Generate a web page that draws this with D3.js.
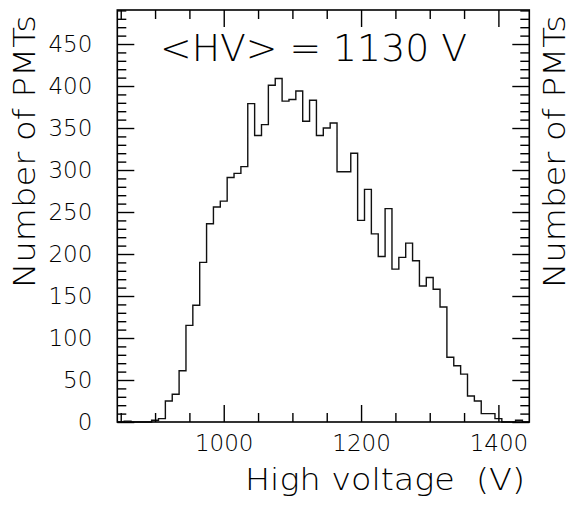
<!DOCTYPE html>
<html>
<head>
<meta charset="utf-8">
<script src="https://cdn.jsdelivr.net/npm/d3@7"></script>
<style>
  html, body { margin: 0; padding: 0; background: #fff; }
  svg { display: block; }
</style>
</head>
<body>
<svg id="chart" width="568" height="505"></svg>
<script>
// Bin centres (10 V wide bins) of the high-voltage distribution
const binCenters = [
  850, 860, 870, 880, 890, 900, 910, 920, 930, 940,
  950, 960, 970, 980, 990, 1000, 1010, 1020, 1030, 1040,
  1050, 1060, 1070, 1080, 1090, 1100, 1110, 1120, 1130, 1140,
  1150, 1160, 1170, 1180, 1190, 1200, 1210, 1220, 1230, 1240,
  1250, 1260, 1270, 1280, 1290, 1300, 1310, 1320, 1330, 1340,
  1350, 1360, 1370, 1380, 1390, 1400, 1410, 1420, 1430, 1440
];
// Number of PMTs in each bin
const pmtCounts = [
  0, 1, 0, 0, 0, 2, 4, 25, 33, 61,
  115, 139, 190, 236, 256, 263, 291, 296, 304, 379,
  341, 354, 401, 409, 382, 384, 394, 358, 383, 341,
  350, 356, 298, 298, 320, 240, 277, 224, 197, 254,
  182, 196, 213, 192, 162, 172, 158, 137, 77, 67,
  57, 31, 25, 10, 10, 4, 0, 0, 2, 0
];
const binWidth = 10;
const xRange = [845, 1445];
const yRange = [0, 490.5];
const xMajorTicks = [1000, 1200, 1400];
const xMinorTicks = [850, 900, 950, 1050, 1100, 1150, 1250, 1300, 1350];
const yMajorTicks = [0, 50, 100, 150, 200, 250, 300, 350, 400, 450];
const meanLabel = "<HV> = 1130 V";
const xTitle = "High voltage  (V)";
const yTitle = "Number of PMTs";

const FONT = '"DejaVu Sans", sans-serif';
const margin = { left: 117.3, top: 10 };
const W = 412, H = 412;

const svg = d3.select("#chart");
const g = svg.append("g").attr("transform", `translate(${margin.left},${margin.top})`);

const x = d3.scaleLinear().domain(xRange).range([0, W]);
const y = d3.scaleLinear().domain(yRange).range([H, 0]);

function thinText(sel, size) {
  return sel.style("font-family", FONT).style("font-weight", 200)
    .style("font-size", size + "px").attr("fill", "#000");
}

// Step outline of the histogram
const pts = [];
pts.push([x(binCenters[0] - binWidth / 2), y(0)]);
binCenters.forEach((c, i) => {
  pts.push([x(c - binWidth / 2), y(pmtCounts[i])]);
  pts.push([x(c + binWidth / 2), y(pmtCounts[i])]);
});
pts.push([x(binCenters[binCenters.length - 1] + binWidth / 2), y(0)]);

g.append("path")
  .attr("d", d3.line()(pts))
  .attr("fill", "none")
  .attr("stroke", "#111")
  .attr("stroke-width", 1.4);

// Axes: ticks point into the frame on all four sides
const yMinor = d3.range(0, 491, 10).filter(v => v % 50 !== 0);
function styleAxis(sel) {
  sel.select(".domain").remove();
  sel.selectAll(".tick line").attr("stroke", "#000").attr("stroke-width", 1.4);
  sel.selectAll("text").call(thinText, 23);
}

g.append("g")
  .call(d3.axisLeft(y).tickValues(yMajorTicks).tickSize(-17).tickPadding(25).tickFormat(d3.format("d")))
  .call(styleAxis);
g.append("g")
  .call(d3.axisLeft(y).tickValues(yMinor).tickSize(-9).tickFormat(""))
  .call(styleAxis);
g.append("g").attr("transform", `translate(${W},0)`)
  .call(d3.axisRight(y).tickValues(yMajorTicks).tickSize(-17).tickFormat(""))
  .call(styleAxis);
g.append("g").attr("transform", `translate(${W},0)`)
  .call(d3.axisRight(y).tickValues(yMinor).tickSize(-9).tickFormat(""))
  .call(styleAxis);

g.append("g").attr("transform", `translate(0,${H})`)
  .call(d3.axisBottom(x).tickValues(xMajorTicks).tickSize(-17).tickPadding(13).tickFormat(d3.format("d")))
  .call(styleAxis);
g.append("g").attr("transform", `translate(0,${H})`)
  .call(d3.axisBottom(x).tickValues(xMinorTicks).tickSize(-9).tickFormat(""))
  .call(styleAxis);
g.append("g")
  .call(d3.axisTop(x).tickValues(xMajorTicks).tickSize(-17).tickFormat(""))
  .call(styleAxis);
g.append("g")
  .call(d3.axisTop(x).tickValues(xMinorTicks).tickSize(-9).tickFormat(""))
  .call(styleAxis);

// Frame
g.append("rect")
  .attr("width", W).attr("height", H)
  .attr("fill", "none").attr("stroke", "#000").attr("stroke-width", 1.6);

// Mean label
svg.append("text")
  .attr("x", 160).attr("y", 61)
  .call(thinText, 37)
  .attr("textLength", 307).attr("lengthAdjust", "spacingAndGlyphs")
  .text(meanLabel);

// Axis titles
svg.append("text")
  .attr("x", 525).attr("y", 490)
  .attr("text-anchor", "end")
  .call(thinText, 30)
  .attr("textLength", 280).attr("lengthAdjust", "spacingAndGlyphs")
  .style("white-space", "pre")
  .text(xTitle);

svg.append("text")
  .attr("transform", "translate(35,288) rotate(-90)")
  .call(thinText, 31)
  .attr("textLength", 273).attr("lengthAdjust", "spacingAndGlyphs")
  .text(yTitle);

svg.append("text")
  .attr("transform", "translate(565,288) rotate(-90)")
  .call(thinText, 30)
  .attr("textLength", 273).attr("lengthAdjust", "spacingAndGlyphs")
  .text(yTitle);
</script>
</body>
</html>
